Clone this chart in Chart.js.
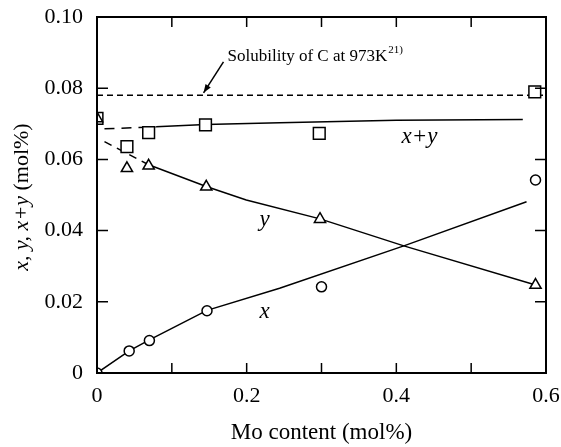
<!DOCTYPE html>
<html>
<head>
<meta charset="utf-8">
<script src="https://cdn.jsdelivr.net/npm/chart.js@4/dist/chart.umd.min.js"></script>
<style>
  html, body { margin: 0; padding: 0; background: #fff; }
  #wrap { width: 561px; height: 447px; }
</style>
</head>
<body>
<div id="wrap"><canvas id="chart" width="561" height="447"></canvas></div>
<script>
// measured points (Mo content, mol%)
const moContent = [0, 0.043, 0.07, 0.147, 0.30, 0.586];
const xValues = [0, 0.0062, 0.0091, 0.0175, 0.0242, 0.0542];
const moContentY = [0, 0.040, 0.069, 0.146, 0.298, 0.586];
const yValues = [0.0715, 0.0575, 0.0582, 0.0523, 0.0432, 0.0247];
const moContentXY = [0, 0.040, 0.069, 0.145, 0.297, 0.585];
const xyValues = [0.0715, 0.0636, 0.0675, 0.0697, 0.0673, 0.0790];

// hand-drawn fit curves
const xFitMo = [0, 0.043, 0.07, 0.147, 0.244, 0.41, 0.574];
const xFitVal = [0, 0.0062, 0.0093, 0.0176, 0.0238, 0.0357, 0.0481];
const yFitDashMo = [0.01, 0.069];
const yFitDashVal = [0.065, 0.0585];
const yFitMo = [0.069, 0.146, 0.1995, 0.298, 0.41, 0.585];
const yFitVal = [0.0585, 0.0524, 0.0486, 0.0433, 0.0357, 0.0248];
const xyFitDashMo = [0.01, 0.079];
const xyFitDashVal = [0.0686, 0.0691];
const xyFitMo = [0.079, 0.145, 0.244, 0.40, 0.569];
const xyFitVal = [0.0692, 0.0698, 0.0703, 0.0710, 0.0712];

const solubility = 0.078;
const xTickLabels = ['0', '0.2', '0.4', '0.6'];
const yTickLabels = ['0', '0.02', '0.04', '0.06', '0.08', '0.10'];

const toPts = (xs, ys) => xs.map((v, i) => ({x: v, y: ys[i]}));
const SERIF = '"Liberation Serif", "Times New Roman", serif';

const markerSet = (data, style, r) => ({
  data: data,
  showLine: false,
  pointStyle: style,
  pointRadius: r,
  pointBackgroundColor: '#fff',
  pointBorderColor: '#000',
  pointBorderWidth: 1.5,
  order: 1
});

const lineSet = (data, dash) => ({
  data: data,
  showLine: true,
  borderColor: '#000',
  borderWidth: 1.5,
  borderDash: dash || [],
  pointRadius: 0,
  tension: 0,
  order: 2
});

// frame, inward ticks, titles and annotations
const decor = {
  id: 'decor',
  afterDatasetsDraw(chart) {
    const ctx = chart.ctx;
    const a = chart.chartArea;
    const xs = chart.scales.x, ys = chart.scales.y;
    ctx.save();
    ctx.strokeStyle = '#000';
    ctx.lineWidth = 2;
    ctx.strokeRect(a.left, a.top, a.right - a.left, a.bottom - a.top);
    ctx.lineWidth = 1.5;
    ctx.beginPath();
    for (let v = 0.1; v < 0.6; v += 0.1) {
      const px = xs.getPixelForValue(v);
      ctx.moveTo(px, a.bottom); ctx.lineTo(px, a.bottom - 10);
      ctx.moveTo(px, a.top); ctx.lineTo(px, a.top + 10);
    }
    for (let v = 0.02; v < 0.1; v += 0.02) {
      const py = ys.getPixelForValue(v);
      ctx.moveTo(a.left, py); ctx.lineTo(a.left + 11, py);
      ctx.moveTo(a.right, py); ctx.lineTo(a.right - 11, py);
    }
    ctx.stroke();

    // arrow to solubility line
    const tx = xs.getPixelForValue(0.1424), ty = ys.getPixelForValue(0.0787);
    const sx = xs.getPixelForValue(0.169), sy = ys.getPixelForValue(0.0874);
    ctx.beginPath();
    ctx.moveTo(sx, sy); ctx.lineTo(tx, ty);
    ctx.stroke();
    const ang = Math.atan2(ty - sy, tx - sx);
    ctx.beginPath();
    ctx.moveTo(tx, ty);
    ctx.lineTo(tx - 9 * Math.cos(ang - 0.35), ty - 9 * Math.sin(ang - 0.35));
    ctx.lineTo(tx - 9 * Math.cos(ang + 0.35), ty - 9 * Math.sin(ang + 0.35));
    ctx.closePath();
    ctx.fillStyle = '#000';
    ctx.fill();

    ctx.fillStyle = '#000';
    ctx.textBaseline = 'middle';
    ctx.textAlign = 'left';
    ctx.font = '17px ' + SERIF;
    const lx = xs.getPixelForValue(0.1745), ly = ys.getPixelForValue(0.0888);
    const main = 'Solubility of C at 973K';
    ctx.fillText(main, lx, ly);
    const w = ctx.measureText(main).width;
    ctx.font = '11px ' + SERIF;
    ctx.fillText('21)', lx + w + 1, ly - 7);

    // curve labels
    ctx.textAlign = 'center';
    ctx.font = 'italic 23px ' + SERIF;
    ctx.fillText('x+y', xs.getPixelForValue(0.431), ys.getPixelForValue(0.0663));
    ctx.fillText('y', xs.getPixelForValue(0.224), ys.getPixelForValue(0.043));
    ctx.fillText('x', xs.getPixelForValue(0.224), ys.getPixelForValue(0.0171));

    // x title
    ctx.font = '23px ' + SERIF;
    ctx.fillText('Mo content (mol%)', (a.left + a.right) / 2, 433);

    // y title, mixed italic
    ctx.translate(22, 197);
    ctx.rotate(-Math.PI / 2);
    const p1 = 'x, y, x+y ', p2 = '(mol%)';
    ctx.font = 'italic 22px ' + SERIF;
    const w1 = ctx.measureText(p1).width;
    ctx.font = '22px ' + SERIF;
    const w2 = ctx.measureText(p2).width;
    ctx.textAlign = 'left';
    ctx.font = 'italic 22px ' + SERIF;
    ctx.fillText(p1, -(w1 + w2) / 2, 0);
    ctx.font = '22px ' + SERIF;
    ctx.fillText(p2, -(w1 + w2) / 2 + w1, 0);
    ctx.restore();
  }
};

new Chart(document.getElementById('chart'), {
  type: 'scatter',
  data: {
    datasets: [
      markerSet(toPts(moContent, xValues), 'circle', 5),
      markerSet(toPts(moContentY, yValues), 'triangle', 6.5),
      markerSet(toPts(moContentXY, xyValues), 'rect', 8.3),
      lineSet(toPts(xFitMo, xFitVal)),
      lineSet(toPts(yFitDashMo, yFitDashVal), [8, 6]),
      lineSet(toPts(yFitMo, yFitVal)),
      lineSet(toPts(xyFitDashMo, xyFitDashVal), [10, 7]),
      lineSet(toPts(xyFitMo, xyFitVal)),
      lineSet([{x: 0, y: solubility}, {x: 0.6, y: solubility}], [6, 4])
    ]
  },
  options: {
    responsive: false,
    animation: false,
    layout: { padding: { top: 17, right: 15, left: 0, bottom: 0 } },
    plugins: { legend: { display: false }, tooltip: { enabled: false } },
    scales: {
      x: {
        type: 'linear',
        min: 0, max: 0.6,
        grid: { display: false, drawTicks: false },
        border: { display: false },
        afterFit: (s) => { s.height = 74; s.paddingLeft = 0; s.paddingRight = 0; },
        ticks: {
          stepSize: 0.1,
          autoSkip: false,
          maxRotation: 0,
          padding: 10,
          color: '#000',
          font: { family: SERIF, size: 22 },
          callback: (v) => {
            const k = Math.round(v * 10);
            return k % 2 === 0 ? xTickLabels[k / 2] : '';
          }
        }
      },
      y: {
        type: 'linear',
        min: 0, max: 0.1,
        grid: { display: false, drawTicks: false },
        border: { display: false },
        afterFit: (s) => { s.width = 97; s.paddingTop = 0; s.paddingBottom = 0; },
        ticks: {
          stepSize: 0.02,
          autoSkip: false,
          padding: 14,
          color: '#000',
          font: { family: SERIF, size: 22 },
          callback: (v) => yTickLabels[Math.round(v * 50)]
        }
      }
    }
  },
  plugins: [decor]
});
</script>
</body>
</html>
